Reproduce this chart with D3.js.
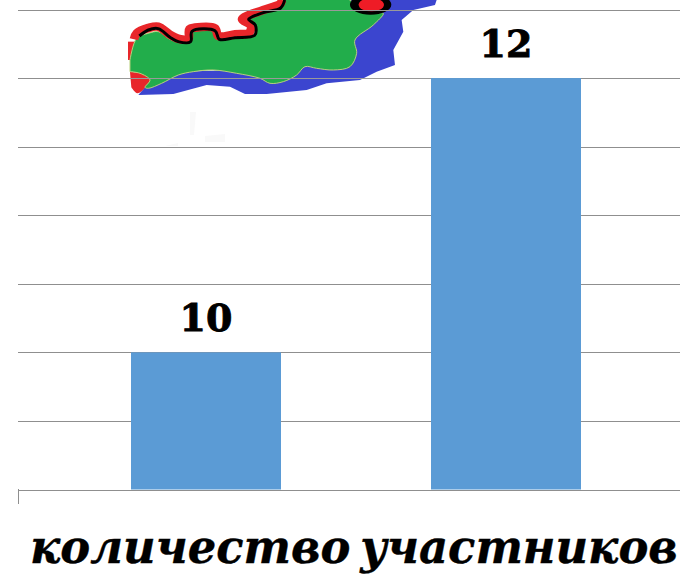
<!DOCTYPE html>
<html><head><meta charset="utf-8">
<script src="https://cdn.jsdelivr.net/npm/d3@7"></script>
<style>html,body{margin:0;padding:0;background:#fff;overflow:hidden}svg{display:block}</style>
</head><body>
<svg id="c" width="680" height="574"></svg>
<script>
const categories = ["A", "B"];
const values = [10, 12];
const gridValues = [9, 9.5, 10, 10.5, 11, 11.5, 12, 12.5];
const axisTitle = "количество участников";

// Decorative map picture (drawn behind the bars), in the picture's own coordinates
const mapLand = [[30,180],[50,115],[85,100],[115,95],[150,118],[175,125],[205,125],[210,95],[225,92],[285,95],[295,118],[345,115],[400,108],[405,75],[385,60],[430,40],[480,25],[495,0],[690,0],[710,25],[750,40],[790,40],[760,75],[705,120],[710,160],[690,200],[640,210],[590,205],[555,200],[530,225],[490,245],[450,250],[420,235],[350,220],[280,210],[220,215],[175,225],[125,250],[85,265],[75,262],[90,240],[60,220],[30,215]];
const mapSea = [[495,0],[950,0],[945,15],[880,30],[845,60],[850,95],[820,150],[825,195],[770,215],[720,240],[620,250],[560,270],[440,282],[375,282],[330,260],[260,255],[160,282],[55,285],[75,262],[175,215],[350,210],[600,120]];
const mapBorder = [[42,118],[50,100],[85,84],[115,80],[150,104],[175,116],[205,116],[208,88],[225,83],[285,85],[295,108],[345,103],[388,98],[392,75],[366,58],[430,30],[480,12],[486,0]];
const mapBlack = [[58,108],[85,90],[115,86],[150,112],[175,125],[212,125],[216,94],[285,92],[298,118],[345,113],[404,106],[406,75],[386,58],[430,38],[482,24],[494,0]];
const mapCoast = [[36,180],[36,125]];
const mapCoast2 = [[30,216],[62,220],[90,238],[76,262],[52,280],[34,262]];

const svg = d3.select("#c");
const W = 680, left = 18;
const y = d3.scaleLinear().domain([9, 12.5]).range([489.5, 9.5]);
const x = d3.scaleBand().domain(categories).range([56, 656]).paddingInner(0.5).paddingOuter(0.25);

// gridlines
svg.append("g").selectAll("line").data(gridValues).join("line")
  .attr("x1", left).attr("x2", W)
  .attr("y1", d => Math.round(y(d)) + 0.5).attr("y2", d => Math.round(y(d)) + 0.5)
  .attr("stroke", "#8f8f8f").attr("stroke-width", 1.2);

// map picture
const defs = svg.append("defs");
defs.append("filter").attr("id", "soft").append("feGaussianBlur").attr("stdDeviation", 0.5);
const map = svg.append("g").attr("transform", "translate(120,0) scale(0.3333)").attr("filter", "url(#soft)");
const poly = d3.line().curve(d3.curveCatmullRom.alpha(0.5));
const lin = d3.line();
map.append("path").attr("d", lin(mapSea) + "Z").attr("fill", "#3a45cf");
map.append("path").attr("d", poly(mapCoast)).attr("stroke", "#e8262a").attr("stroke-width", 24).attr("fill", "none");
map.append("path").attr("d", poly(mapCoast2) + "Z").attr("fill", "#e8262a");
map.append("path").attr("d", poly(mapLand) + "Z").attr("fill", "#23ad4b").attr("stroke", "#b9cf7c").attr("stroke-width", 3);
map.append("path").attr("d", poly(mapBorder)).attr("stroke", "#e8262a").attr("stroke-width", 26).attr("fill", "none").attr("stroke-linejoin", "round");
map.append("path").attr("d", poly(mapBlack)).attr("stroke", "#000").attr("stroke-width", 9).attr("fill", "none");
map.append("ellipse").attr("cx", 752).attr("cy", 14).attr("rx", 62).attr("ry", 30).attr("fill", "#000");
map.append("ellipse").attr("cx", 754).attr("cy", 14).attr("rx", 38).attr("ry", 20).attr("fill", "#ee1c25");

// faint smudge below the map
svg.append("path").attr("d", "M190 112 L196 112 L194 135 L190 135 Z M165 146 L178 143 L178 146 Z M205 136 L225 134 L225 142 L205 142 Z")
  .attr("fill", "#f9f9f9");

// gridlines show through the picture
svg.append("g").selectAll("line").data(gridValues.filter(d => d >= 12)).join("line")
  .attr("x1", 120).attr("x2", 440)
  .attr("y1", d => Math.round(y(d)) + 0.5).attr("y2", d => Math.round(y(d)) + 0.5)
  .attr("stroke", "#9a9a9a").attr("stroke-width", 1.2);

// bars
svg.append("g").selectAll("rect").data(values).join("rect")
  .attr("x", (d, i) => x(categories[i]))
  .attr("width", x.bandwidth())
  .attr("y", d => y(d))
  .attr("height", d => y(9) - y(d))
  .attr("fill", "#5b9bd5");

// axis tick
svg.append("line").attr("x1", left + 0.5).attr("x2", left + 0.5).attr("y1", 489).attr("y2", 504).attr("stroke", "#8f8f8f");

// labels
svg.append("g").selectAll("text").data(values).join("text")
  .attr("x", (d, i) => x(categories[i]) + x.bandwidth() / 2)
  .attr("y", d => y(d) - 21)
  .attr("text-anchor", "middle")
  .attr("font-family", "'DejaVu Serif'")
  .attr("font-weight", 700)
  .attr("font-size", 38)
  .attr("stroke", "#000").attr("stroke-width", 0.9)
  .text(d => d);

const title = svg.append("text")
  .attr("font-family", "'DejaVu Serif'")
  .attr("font-weight", 700).attr("font-style", "italic")
  .attr("font-size", 47)
  .attr("word-spacing", -6)
  .attr("stroke", "#000").attr("stroke-width", 0.4)
  .text(axisTitle);
const natural = title.node().getComputedTextLength();
title.attr("transform", `translate(30,563) scale(${648 / natural},1)`);
</script>
</body></html>
